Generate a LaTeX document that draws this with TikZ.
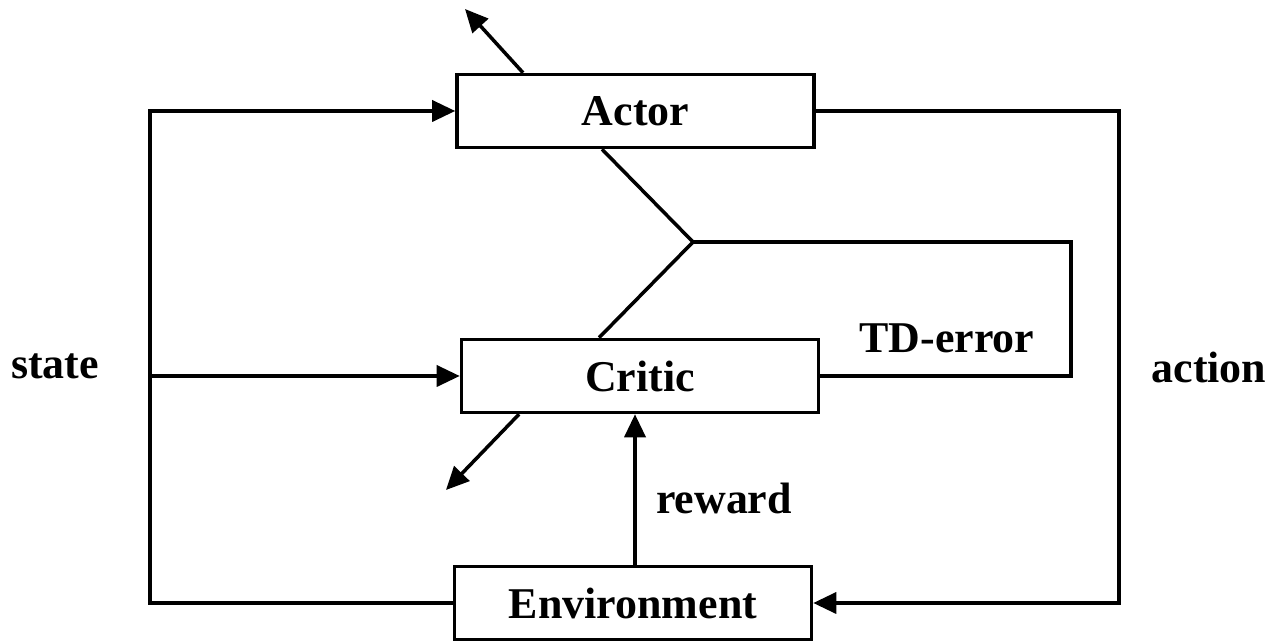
\documentclass[tikz,border=0pt]{standalone}
\usepackage{fontspec}
\setmainfont{Liberation Serif}
\usetikzlibrary{arrows.meta, calc, positioning}
\tikzset{
  blk/.style={draw, line width=2pt, minimum width=7.14cm, minimum height=1.46cm, font=\fontsize{25}{30}\selectfont\bfseries},
  lbl/.style={font=\fontsize{25}{30}\selectfont\bfseries},
  tip/.style={-{Triangle[length=0.46cm, width=0.42cm]}},
}
\begin{document}
\begin{tikzpicture}[line width=2pt]
                        \useasboundingbox (0, 0) rectangle (25.4, 12.82);
                        \node[blk] (actor) at (12.71, 10.6) {Actor};
                        \node[blk] (critic) at (12.8, 5.3) {Critic};
                        \node[blk] (env) at (12.66, 0.76) {Environment};
                        \coordinate (sj) at (3, 5.3);
                        \coordinate (tdj) at (13.86, 7.98);
                        \coordinate (actup) at (9.3, 12.64);
                        \coordinate (critdown) at (8.92, 3.02);
                        \node[lbl] (state) at (1.1, 5.5) {state};
                        \node[lbl] (action) at (24.18, 5.48) {action};
                        \node[lbl] (tderr) at (18.94, 6.06) {TD-error};
                        \node[lbl] (reward) at (14.48, 2.86) {reward};
                        \draw[tip] (env.west) -| (sj) |- (actor.west);
                        \draw[tip] (sj) -- (critic.west);
                        \draw[tip] (actor.east) -- (22.38, 10.6) |- (env.east);
                        \draw (actor.south -| 12.04, 0) -- (tdj) -- (critic.north -| 11.98, 0);
                        \draw (tdj) -- (21.42, 7.98) |- (critic.east);
                        \draw[tip] (actor.north -| 10.46, 0) -- (actup);
                        \draw[tip] (critic.south -| 10.38, 0) -- (critdown);
                        \draw[tip] (env.north -| 12.7, 0) -- (critic.south -| 12.7, 0);
                    \end{tikzpicture}
\end{document}
